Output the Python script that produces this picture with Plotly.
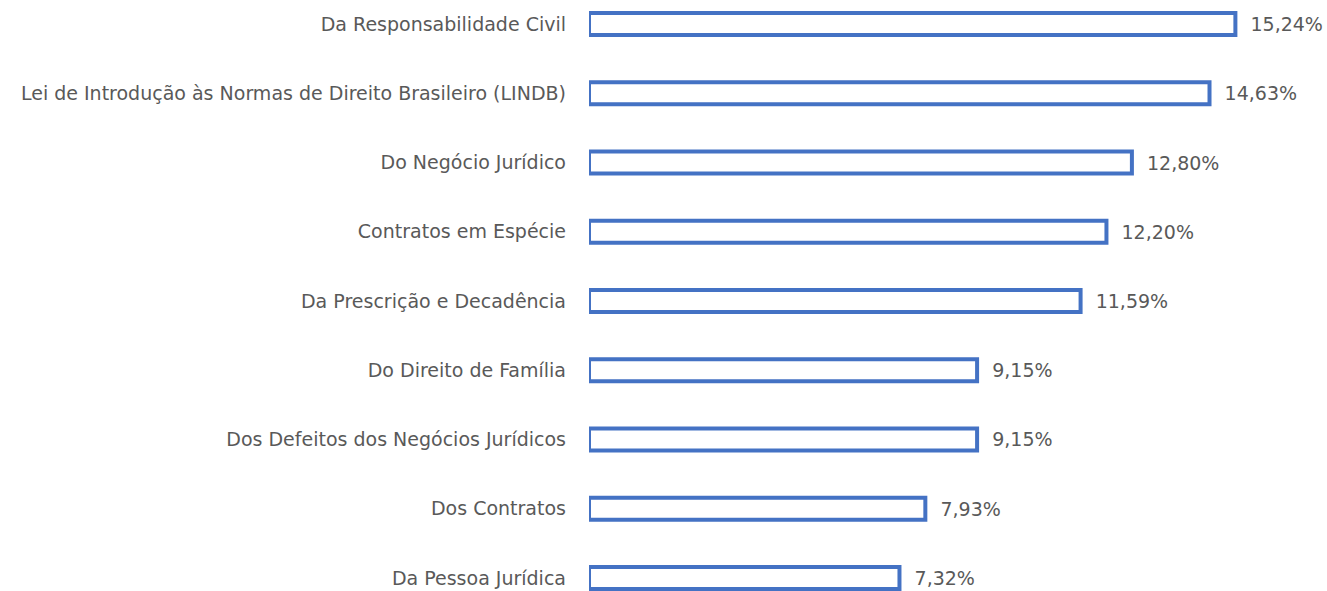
import plotly.graph_objects as go

categories = [
    "Da Pessoa Jurídica",
    "Dos Contratos",
    "Dos Defeitos dos Negócios Jurídicos",
    "Do Direito de Família",
    "Da Prescrição e Decadência",
    "Contratos em Espécie",
    "Do Negócio Jurídico",
    "Lei de Introdução às Normas de Direito Brasileiro (LINDB)",
    "Da Responsabilidade Civil",
]
values = [7.32, 7.93, 9.15, 9.15, 11.59, 12.20, 12.80, 14.63, 15.24]

FONT = "DejaVu Sans"
fig = go.Figure(
    go.Bar(
        y=categories,
        x=values,
        orientation="h",
        marker=dict(color="white", line=dict(color="#4472C4", width=4)),
        texttemplate="  %{x:.2f}%",
        textposition="outside",
        textfont=dict(family=FONT, size=19, color="#595959"),
        cliponaxis=False,
        hoverinfo="skip",
    )
)

fig.update_layout(
    width=1327,
    height=591,
    margin=dict(l=589, r=0, t=0, b=0),
    paper_bgcolor="white",
    plot_bgcolor="white",
    separators=",.",
    bargap=0.68,
    showlegend=False,
    font=dict(family=FONT, size=19, color="#595959"),
)
fig.update_xaxes(range=[0, 17.4], visible=False, showgrid=False, zeroline=False)
fig.update_yaxes(
    range=[-0.188, 8.347],
    showgrid=False,
    zeroline=False,
    showline=False,
    ticks="",
    ticklabelstandoff=22,
    tickfont=dict(family=FONT, size=19, color="#595959"),
)

fig.write_html(
    "out.html",
    config={"displayModeBar": False},
    post_script="document.body.style.margin='0';document.body.style.overflow='hidden';",
)
